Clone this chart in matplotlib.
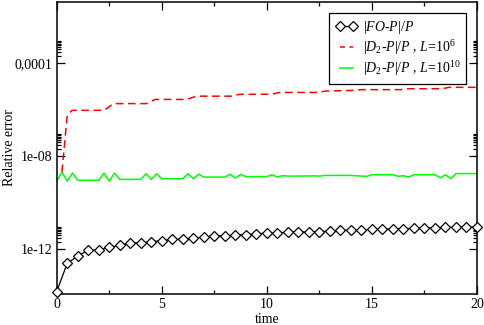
import numpy as np
import matplotlib
matplotlib.use("Agg")
import matplotlib.pyplot as plt
from matplotlib.ticker import FixedLocator, FixedFormatter, NullFormatter

plt.rcParams['font.family'] = ['Liberation Serif', 'DejaVu Serif']
plt.rcParams['mathtext.fontset'] = 'custom'
plt.rcParams['mathtext.rm'] = 'Liberation Serif'
plt.rcParams['mathtext.it'] = 'Liberation Serif:italic'

# |FO-P|/P  (log10 of relative error), sampled every 0.5 time units
fo_time = [i * 0.5 for i in range(41)]
fo_log10 = [-13.82, -12.60, -12.29, -12.03, -12.03, -11.91, -11.83, -11.72, -11.72,
            -11.67, -11.63, -11.56, -11.57, -11.51, -11.48, -11.42, -11.42, -11.38,
            -11.37, -11.33, -11.30, -11.30, -11.27, -11.24, -11.26, -11.24, -11.21,
            -11.18, -11.18, -11.17, -11.14, -11.13, -11.13, -11.11, -11.10, -11.08,
            -11.07, -11.05, -11.05, -11.04, -11.04]

# |D2-P|/P, L=1e6
d6_time = [0.25, 0.5, 0.72, 2.26, 2.7, 4.28, 4.68, 6.18, 6.65, 8.32, 8.71, 10.21,
           10.61, 12.35, 12.83, 14.25, 14.49, 16.38, 16.68, 18.34, 18.68, 20.0]
d6_log10 = [-8.68, -6.24, -6.02, -6.02, -5.73, -5.73, -5.55, -5.55, -5.41, -5.41,
            -5.33, -5.33, -5.25, -5.25, -5.19, -5.16, -5.13, -5.13, -5.09, -5.09,
            -5.03, -5.03]

# |D2-P|/P, L=1e10
d10_time = [0, 0.25, 0.5, 0.75, 1.0, 2.0, 2.25, 2.5, 2.75, 3.0, 4.0, 4.25, 4.5, 4.75,
            5.0, 6.0, 6.25, 6.5, 6.75, 7.0, 8.0, 8.25, 8.5, 8.75, 9.0, 10.0, 10.25,
            10.5, 10.75, 11.0, 12.25, 12.5, 12.75, 14.0, 14.75, 15.0, 16.0, 16.25,
            16.5, 16.75, 17.0, 18.0, 18.25, 18.5, 18.75, 19.0, 20.0]
d10_log10 = [-9.06, -8.68, -9.06, -8.72, -9.03, -9.03, -8.72, -9.06, -8.72, -8.99,
             -8.99, -8.75, -8.99, -8.75, -8.96, -8.96, -8.75, -8.96, -8.77, -8.89,
             -8.89, -8.77, -8.93, -8.78, -8.87, -8.87, -8.79, -8.89, -8.83, -8.85,
             -8.84, -8.85, -8.82, -8.82, -8.86, -8.79, -8.79, -8.86, -8.83, -8.89,
             -8.79, -8.79, -8.92, -8.79, -8.96, -8.74, -8.74]

y_major = [1e-12, 1e-8, 1e-4]
y_labels = ['1e-12', '1e-08', '0,0001']
x_major = [0, 5, 10, 15, 20]

fig = plt.figure(figsize=(4.85, 3.25), dpi=100)
ax = fig.add_axes([56.7 / 485, 1 - 294 / 325, (477 - 56.7) / 485, (294 - 2) / 325])

ax.plot(d6_time, 10 ** np.array(d6_log10), color='#ff0000', lw=1.1,
        linestyle=(0, (5, 3)), label=r'$|D_2$-$P|/P$ , $L$=10$^{6}$')
ax.plot(d10_time, 10 ** np.array(d10_log10), color='#00ff00', lw=1.1,
        label=r'$|D_2$-$P|/P$ , $L$=10$^{10}$')
ax.plot(fo_time, 10 ** np.array(fo_log10), color='black', lw=0.9, marker='D', ms=4.9,
        mfc='white', mec='black', mew=0.9, clip_on=False, zorder=5,
        label=r'$|FO$-$P|/P$')

ax.set_yscale('log')
ax.set_xlim(0, 20)
ax.set_ylim(10 ** -13.92, 10 ** -1.36)

ax.xaxis.set_major_locator(FixedLocator(x_major))
ax.xaxis.set_minor_locator(FixedLocator([2.5, 7.5, 12.5, 17.5]))
ax.yaxis.set_major_locator(FixedLocator(y_major))
ax.yaxis.set_major_formatter(FixedFormatter(y_labels))
ax.yaxis.set_minor_locator(FixedLocator([m * v for v in y_major for m in range(2, 10)]))
ax.yaxis.set_minor_formatter(NullFormatter())

ax.tick_params(which='both', direction='in', top=True, right=True, labelsize=10,
               width=0.9, colors='black', pad=3)
ax.tick_params(which='major', length=5.8)
ax.tick_params(which='minor', length=3.2)
for s in ax.spines.values():
    s.set_linewidth(1.1)

ax.set_xlabel('time', fontsize=10, labelpad=1)
ax.set_ylabel('Relative error', fontsize=10)
ax.yaxis.set_label_coords(-0.097, 0.5)

handles, labels = ax.get_legend_handles_labels()
order = [2, 0, 1]
leg = ax.legend([handles[i] for i in order], [labels[i] for i in order],
                loc='upper right', bbox_to_anchor=(0.975, 0.963), fontsize=10,
                numpoints=2, handlelength=1.55, handletextpad=0.4, borderpad=0.45,
                labelspacing=0.15, fancybox=False, framealpha=1, edgecolor='black',
                borderaxespad=0)
leg.get_frame().set_linewidth(0.9)
for ln in leg.get_lines():
    if ln.get_color() == '#ff0000':
        ln.set_linestyle((1.0, (4.2, 3.0)))

fig.savefig('out.png', dpi=100)
